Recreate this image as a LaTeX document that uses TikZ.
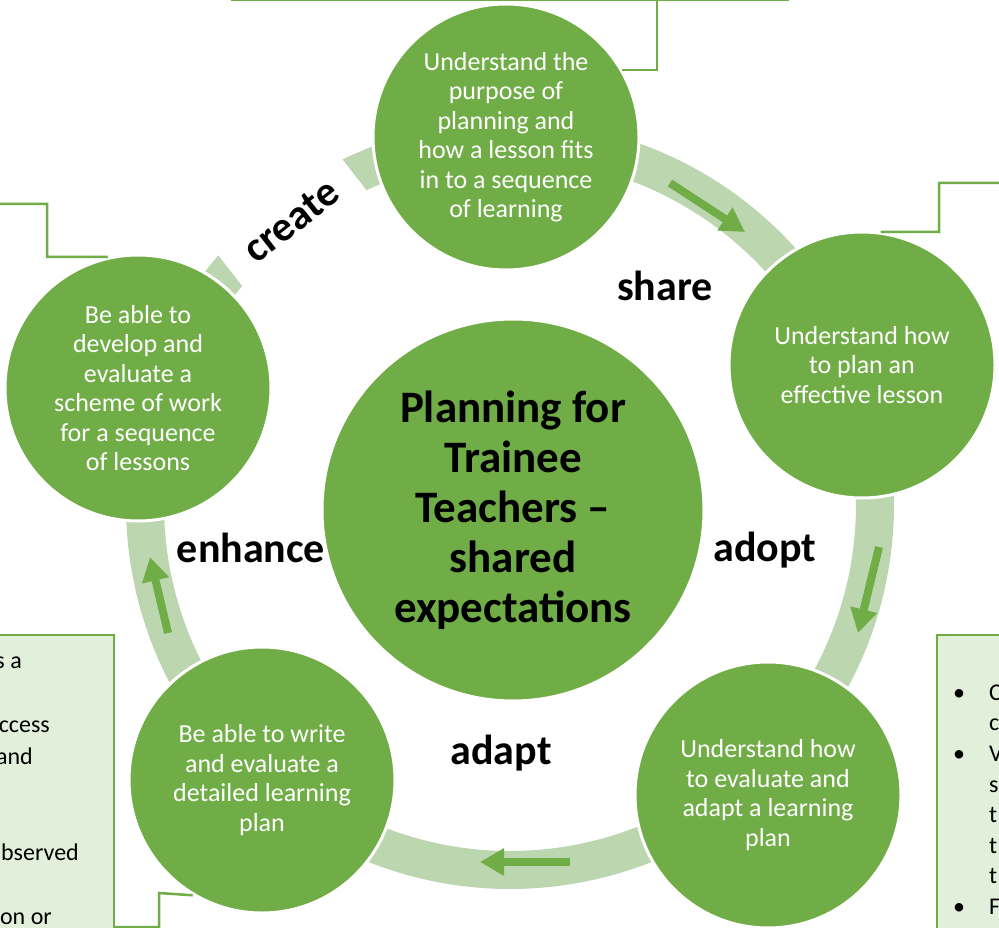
\documentclass[tikz,border=0pt]{standalone}
\usepackage{fontspec}
\setmainfont{Carlito}
\usetikzlibrary{arrows.meta}
\definecolor{leaf}{HTML}{70AD47}
\definecolor{band}{HTML}{BCD6B0}
\definecolor{pale}{HTML}{E2EFDA}
\begin{document}
\begin{tikzpicture}[x=1pt,y=-1pt,
    bubble/.style={circle,fill=leaf,draw=white,line width=3pt,minimum size=266pt,inner sep=0pt,
      text=white,align=center,font=\fontsize{26}{29.5}\selectfont},
    hub/.style={circle,fill=leaf,draw=white,line width=3pt,minimum size=382pt,inner sep=0pt,
      align=center,font=\fontsize{45}{50}\selectfont\bfseries},
    verb/.style={font=\fontsize{42}{50}\selectfont\bfseries,anchor=base},
    ring/.style={band,line width=38pt},
    flow/.style={leaf,line width=8pt,-{Triangle[width=26pt,length=24pt]}},
    link/.style={leaf,line width=2.5pt},
    note/.style={fill=pale,draw=leaf,line width=2pt},
    scrap/.style={font=\fontsize{24}{28}\selectfont,inner sep=0pt}]
  \useasboundingbox (0,0) rectangle (999,928);
  \clip (0,0) rectangle (999,928);
  \coordinate (pivot) at (510,505);
  % bands round the cycle
  \draw[ring] ([shift={(-90.6:365)}]pivot) arc[start angle=-90.6,end angle=-21.7,radius=365];
  \draw[ring] ([shift={(-21.7:365)}]pivot) arc[start angle=-21.7,end angle=48.3,radius=365];
  \draw[ring] ([shift={(48.3:365)}]pivot) arc[start angle=48.3,end angle=132,radius=365];
  \draw[ring] ([shift={(132:365)}]pivot) arc[start angle=132,end angle=197.5,radius=365];
  \draw[ring] ([shift={(197.5:365)}]pivot) arc[start angle=197.5,end angle=269.4,radius=365];
  \draw[flow] (670,183) -- (745,232);
  \draw[flow] (879,547) -- (858,633);
  \draw[flow] (570,862) -- (480,862);
  \draw[flow] (168,633) -- (150,557);
  \node[verb,fill=white,anchor=center,rotate=38,inner xsep=24pt,inner ysep=16pt] (create) at (291,221) {create};
  % side notes
  \node[note,minimum width=556pt,minimum height=80pt,anchor=south west] (aimtop) at (231,1) {};
  \node[note,minimum width=200pt,minimum height=330pt,anchor=north east] (aimleft) at (115,634) {};
  \node[note,minimum width=200pt,minimum height=330pt,anchor=north west] (aimright) at (936,634) {};
  \node[scrap,anchor=base east] (l1) at (22,668) {s a};
  \node[scrap,anchor=base east] (l2) at (50,732) {ccess};
  \node[scrap,anchor=base east] (l3) at (33,764) {and};
  \node[scrap,anchor=base east] (l4) at (79,860) {bserved};
  \node[scrap,anchor=base east] (l5) at (52,924) {on or};
  \foreach \y/\t in {700/C,730/c,761/V,792/s,822/t,853/t,883/t,914/F}
    \node[scrap,anchor=base west] at (989,\y) {\t};
  \foreach \y in {700,761,914}
    \node[scrap,anchor=base] at (959,\y) {•};
  % stages
  \node[bubble] (top) at (506,137) {Understand the\\purpose of\\planning and\\how a lesson fits\\in to a sequence\\of learning};
  \node[bubble] (right) at (862,365) {Understand how\\to plan an\\effective lesson};
  \node[bubble] (botright) at (768,795) {Understand how\\to evaluate and\\adapt a learning\\plan};
  \node[bubble] (botleft) at (262,780) {Be able to write\\and evaluate a\\detailed learning\\plan};
  \node[bubble] (left) at (138,388) {Be able to\\develop and\\evaluate a\\scheme of work\\for a sequence\\of lessons};
  \node[hub] (hub) at (513,510) {Planning for\\Trainee\\Teachers --\\shared\\expectations};
  \node[verb] (share) at (665,300) {share};
  \node[verb] (adopt) at (765,561) {adopt};
  \node[verb] (adapt) at (501,764) {adapt};
  \node[verb] (enhance) at (251,562) {enhance};
  % callout links
  \draw[link] (top.30) -| ([xshift=426pt]aimtop.south west);
  \draw[link] (right.82) -- (939,232) -- (939,183) -- (1010,183);
  \draw[link] (left.103) -- (47,257) -- (47,204) -- (-10,204);
  \draw[link] (botleft.-121) -- (159,893) -- (159,927) -- (aimleft.east |- 0,927);
\end{tikzpicture}
\end{document}
